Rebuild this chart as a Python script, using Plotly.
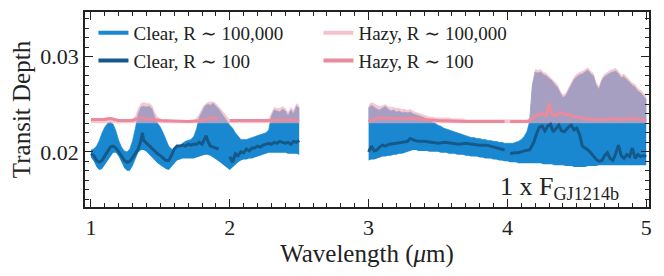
import plotly.graph_objects as go

# ---------------- data ----------------
wl_hi = [1.00, 1.02, 1.04, 1.06, 1.08, 1.10, 1.12, 1.14, 1.16, 1.18, 1.20, 1.22, 1.24, 1.26, 1.28, 1.30,
         1.32, 1.34, 1.36, 1.38, 1.40, 1.42, 1.44, 1.46, 1.48, 1.50, 1.52, 1.54, 1.56, 1.58, 1.60, 1.62,
         1.64, 1.66, 1.68, 1.70, 1.72, 1.74, 1.76, 1.78, 1.80, 1.82, 1.84, 1.86, 1.88, 1.90, 1.92,
         2.00, 2.02, 2.04, 2.06, 2.08, 2.10, 2.12, 2.14, 2.16, 2.18, 2.20, 2.22, 2.24, 2.26, 2.28, 2.30,
         2.32, 2.34, 2.36, 2.38, 2.40, 2.42, 2.44, 2.46, 2.48, 2.50,
         3.00, 3.02, 3.04, 3.06, 3.08, 3.10, 3.12, 3.14, 3.16, 3.18, 3.20, 3.22, 3.24, 3.26, 3.28, 3.30,
         3.32, 3.34, 3.36, 3.38, 3.40, 3.42, 3.44, 3.46, 3.48, 3.50, 3.52, 3.54, 3.56, 3.58, 3.60, 3.62,
         3.64, 3.66, 3.68, 3.70, 3.72, 3.74, 3.76, 3.78, 3.80, 3.82, 3.84, 3.86, 3.88, 3.90, 3.92, 3.94,
         3.96, 3.98, 4.00, 4.02, 4.04, 4.06, 4.08, 4.10, 4.12, 4.14, 4.16, 4.18, 4.20, 4.22, 4.24, 4.26,
         4.28, 4.30, 4.32, 4.34, 4.36, 4.38, 4.40, 4.42, 4.44, 4.46, 4.48, 4.50, 4.52, 4.54, 4.56, 4.58,
         4.60, 4.62, 4.64, 4.66, 4.68, 4.70, 4.72, 4.74, 4.76, 4.78, 4.80, 4.82, 4.84, 4.86, 4.88, 4.90,
         4.92, 4.94, 4.96, 4.98, 5.00]

clear_hi_min = [0.0194, 0.0190, 0.0184, 0.0181, 0.0182, 0.0186, 0.0190, 0.0195, 0.0199, 0.0199, 0.0195, 0.0189, 0.0183, 0.0180, 0.0180, 0.0185,
                0.0193, 0.0199, 0.0202, 0.0202, 0.0200, 0.0197, 0.0193, 0.0190, 0.0188, 0.0186, 0.0184, 0.0182, 0.0181, 0.0184, 0.0188, 0.0191,
                0.0192, 0.0193, 0.0193, 0.0193, 0.0193, 0.0193, 0.0194, 0.0195, 0.0196, 0.0197, 0.0197, 0.0196, 0.0194, 0.0192, 0.0190,
                0.0181, 0.0184, 0.0187, 0.0189, 0.0191, 0.0192, 0.0192, 0.0193, 0.0193, 0.0194, 0.0195, 0.0196, 0.0197, 0.0198, 0.0199, 0.0199,
                0.0199, 0.0199, 0.0199, 0.0199, 0.0199, 0.0198, 0.0198, 0.0198, 0.0198, 0.0197,
                0.0191, 0.0192, 0.0192, 0.0193, 0.0194, 0.0195, 0.0195, 0.0196, 0.0196, 0.0197, 0.0197, 0.0198, 0.0198, 0.0199, 0.0200, 0.0201,
                0.0202, 0.0202, 0.0201, 0.0201, 0.0201, 0.0201, 0.0200, 0.0200, 0.0200, 0.0200, 0.0199, 0.0199, 0.0199, 0.0198, 0.0198, 0.0198,
                0.0197, 0.0197, 0.0197, 0.0196, 0.0196, 0.0195, 0.0195, 0.0195, 0.0194, 0.0194, 0.0193, 0.0193, 0.0193, 0.0192, 0.0192, 0.0191,
                0.0191, 0.0190, 0.0190, 0.0189, 0.0189, 0.0189, 0.0188, 0.0188, 0.0188, 0.0188, 0.0188, 0.0188, 0.0188, 0.0188, 0.0188, 0.0187,
                0.0187, 0.0187, 0.0187, 0.0186, 0.0186, 0.0186, 0.0186, 0.0185, 0.0185, 0.0185, 0.0184, 0.0184, 0.0184, 0.0184, 0.0184, 0.0185,
                0.0185, 0.0185, 0.0185, 0.0186, 0.0186, 0.0186, 0.0186, 0.0186, 0.0186, 0.0186, 0.0186, 0.0186, 0.0186, 0.0186, 0.0186, 0.0186,
                0.0186, 0.0186, 0.0186, 0.0186, 0.0186]

clear_hi_max = [0.0202, 0.0203, 0.0206, 0.0212, 0.0220, 0.0226, 0.0230, 0.0231, 0.0229, 0.0222, 0.0212, 0.0205, 0.0201, 0.0200, 0.0203, 0.0212,
                0.0225, 0.0240, 0.0247, 0.0248, 0.0247, 0.0248, 0.0245, 0.0236, 0.0230, 0.0226, 0.0220, 0.0212, 0.0206, 0.0203, 0.0202, 0.0204,
                0.0207, 0.0209, 0.0211, 0.0212, 0.0213, 0.0216, 0.0224, 0.0236, 0.0243, 0.0248, 0.0250, 0.0249, 0.0251, 0.0248, 0.0245,
                0.0228, 0.0225, 0.0220, 0.0216, 0.0213, 0.0213, 0.0213, 0.0214, 0.0215, 0.0216, 0.0217, 0.0218, 0.0219, 0.0220, 0.0223, 0.0238,
                0.0244, 0.0243, 0.0242, 0.0245, 0.0243, 0.0238, 0.0244, 0.0240, 0.0248, 0.0246,
                0.0246, 0.0249, 0.0247, 0.0245, 0.0244, 0.0246, 0.0248, 0.0245, 0.0243, 0.0244, 0.0242, 0.0243, 0.0241, 0.0242, 0.0241, 0.0242,
                0.0240, 0.0239, 0.0238, 0.0237, 0.0236, 0.0234, 0.0233, 0.0231, 0.0230, 0.0228, 0.0227, 0.0225, 0.0224, 0.0223, 0.0222, 0.0221,
                0.0220, 0.0219, 0.0218, 0.0217, 0.0216, 0.0215, 0.0215, 0.0214, 0.0214, 0.0213, 0.0213, 0.0212, 0.0212, 0.0211, 0.0211, 0.0210,
                0.0210, 0.0209, 0.0209, 0.0209, 0.0209, 0.0210, 0.0211, 0.0213, 0.0216, 0.0221, 0.0232, 0.0270, 0.0284, 0.0283, 0.0284, 0.0281,
                0.0280, 0.0277, 0.0275, 0.0271, 0.0268, 0.0262, 0.0257, 0.0259, 0.0265, 0.0270, 0.0276, 0.0279, 0.0281, 0.0282, 0.0284, 0.0286,
                0.0282, 0.0280, 0.0270, 0.0266, 0.0275, 0.0279, 0.0281, 0.0283, 0.0284, 0.0285, 0.0282, 0.0278, 0.0279, 0.0276, 0.0272, 0.0270,
                0.0268, 0.0264, 0.0262, 0.0258, 0.0255]

hazy_hi_max = [0.0234, 0.0234, 0.0234, 0.0235, 0.0235, 0.0236, 0.0237, 0.0237, 0.0236, 0.0235, 0.0234, 0.0234, 0.0234, 0.0234, 0.0234, 0.0235,
               0.0238, 0.0246, 0.0251, 0.0252, 0.0251, 0.0251, 0.0249, 0.0242, 0.0237, 0.0235, 0.0234, 0.0234, 0.0234, 0.0233, 0.0233, 0.0233,
               0.0233, 0.0233, 0.0233, 0.0233, 0.0233, 0.0233, 0.0236, 0.0240, 0.0246, 0.0250, 0.0252, 0.0253, 0.0253, 0.0251, 0.0248,
               0.0234, 0.0234, 0.0234, 0.0234, 0.0234, 0.0234, 0.0234, 0.0234, 0.0234, 0.0234, 0.0234, 0.0234, 0.0234, 0.0234, 0.0235, 0.0242,
               0.0247, 0.0246, 0.0246, 0.0248, 0.0246, 0.0242, 0.0247, 0.0244, 0.0251, 0.0249,
               0.0249, 0.0252, 0.0251, 0.0249, 0.0248, 0.0249, 0.0250, 0.0248, 0.0247, 0.0247, 0.0246, 0.0246, 0.0245, 0.0245, 0.0244, 0.0245,
               0.0243, 0.0242, 0.0241, 0.0240, 0.0239, 0.0238, 0.0237, 0.0237, 0.0236, 0.0236, 0.0236, 0.0236, 0.0236, 0.0236, 0.0235, 0.0235,
               0.0235, 0.0235, 0.0235, 0.0234, 0.0234, 0.0234, 0.0234, 0.0234, 0.0234, 0.0234, 0.0234, 0.0234, 0.0234, 0.0234, 0.0234, 0.0234,
               0.0234, 0.0234, 0.0234, 0.0234, 0.0234, 0.0234, 0.0234, 0.0234, 0.0234, 0.0234, 0.0236, 0.0273, 0.0287, 0.0286, 0.0287, 0.0284,
               0.0283, 0.0280, 0.0278, 0.0274, 0.0271, 0.0265, 0.0260, 0.0262, 0.0268, 0.0273, 0.0279, 0.0282, 0.0284, 0.0285, 0.0287, 0.0289,
               0.0285, 0.0283, 0.0273, 0.0269, 0.0278, 0.0282, 0.0284, 0.0286, 0.0287, 0.0288, 0.0285, 0.0281, 0.0282, 0.0279, 0.0275, 0.0273,
               0.0271, 0.0267, 0.0265, 0.0262, 0.0259]

hazy_hi_floor = 0.0230

wl_lo = [1.00, 1.02, 1.04, 1.06, 1.08, 1.10, 1.12, 1.14, 1.16, 1.18, 1.20, 1.22, 1.24, 1.26, 1.28, 1.30,
         1.32, 1.34, 1.36, 1.37, 1.38, 1.40, 1.42, 1.44, 1.46, 1.48, 1.50, 1.52, 1.54, 1.56, 1.58, 1.60,
         1.62, 1.64, 1.66, 1.68, 1.70, 1.72, 1.74, 1.76, 1.78, 1.80, 1.82, 1.83, 1.84, 1.86, 1.88, 1.90, 1.92,
         None,
         2.00, 2.02, 2.04, 2.06, 2.08, 2.10, 2.12, 2.14, 2.16, 2.18, 2.20, 2.22, 2.24, 2.26, 2.28, 2.30,
         2.32, 2.34, 2.36, 2.38, 2.40, 2.42, 2.44, 2.46, 2.48, 2.50,
         None,
         3.00, 3.02, 3.04, 3.06, 3.08, 3.10, 3.12, 3.15, 3.20, 3.25, 3.28, 3.30, 3.33, 3.36, 3.40, 3.45,
         3.50, 3.55, 3.60, 3.65, 3.70, 3.75, 3.80, 3.85, 3.90, 3.95, 3.98,
         None,
         4.02, 4.05, 4.08, 4.12, 4.16, 4.19, 4.21, 4.23, 4.25, 4.27, 4.29, 4.31, 4.33, 4.35, 4.37, 4.39,
         4.41, 4.44, 4.46, 4.48, 4.50, 4.52, 4.54, 4.56, 4.58, 4.60, 4.62, 4.64, 4.66, 4.68, 4.70, 4.72,
         4.74, 4.76, 4.78, 4.80, 4.82, 4.84, 4.86, 4.88, 4.90, 4.92, 4.94, 4.96, 4.98, 5.00]

clear_lo = [0.0198, 0.0196, 0.0191, 0.0189, 0.0191, 0.0196, 0.0201, 0.0205, 0.0206, 0.0204, 0.0200, 0.0195, 0.0191, 0.0189, 0.0190, 0.0194,
            0.0199, 0.0203, 0.0212, 0.0220, 0.0212, 0.0209, 0.0207, 0.0203, 0.0200, 0.0198, 0.0196, 0.0193, 0.0191, 0.0191, 0.0196, 0.0203,
            0.0206, 0.0206, 0.0207, 0.0206, 0.0208, 0.0207, 0.0208, 0.0208, 0.0210, 0.0208, 0.0213, 0.0217, 0.0212, 0.0206, 0.0205, 0.0204, 0.0203,
            None,
            0.0195, 0.0189, 0.0198, 0.0196, 0.0200, 0.0199, 0.0203, 0.0201, 0.0204, 0.0204, 0.0206, 0.0205, 0.0207, 0.0208, 0.0209, 0.0208,
            0.0210, 0.0209, 0.0211, 0.0210, 0.0209, 0.0210, 0.0208, 0.0211, 0.0210, 0.0212,
            None,
            0.0200, 0.0206, 0.0201, 0.0202, 0.0205, 0.0207, 0.0206, 0.0208, 0.0209, 0.0210, 0.0211, 0.0214, 0.0212, 0.0211, 0.0211, 0.0210,
            0.0209, 0.0210, 0.0209, 0.0208, 0.0209, 0.0208, 0.0207, 0.0207, 0.0205, 0.0203, 0.0202,
            None,
            0.0198, 0.0199, 0.0199, 0.0201, 0.0202, 0.0210, 0.0219, 0.0226, 0.0227, 0.0222, 0.0227, 0.0229, 0.0221, 0.0224, 0.0228, 0.0222,
            0.0221, 0.0226, 0.0228, 0.0223, 0.0225, 0.0218, 0.0206, 0.0204, 0.0202, 0.0199, 0.0195, 0.0192, 0.0190, 0.0191, 0.0196, 0.0199,
            0.0193, 0.0191, 0.0198, 0.0207, 0.0196, 0.0193, 0.0197, 0.0195, 0.0204, 0.0193, 0.0197, 0.0195, 0.0196, 0.0195]

wl_hz = [1.00, 1.10, 1.14, 1.20, 1.30, 1.36, 1.40, 1.50, 1.70, 1.80, 1.84, 1.88, 1.92,
         None,
         2.00, 2.30, 2.40, 2.50,
         None,
         3.00, 3.05, 3.10, 3.20, 3.30, 3.40, 3.50, 3.70, 3.98,
         None,
         4.02, 4.15, 4.19, 4.22, 4.25, 4.28, 4.30, 4.32, 4.35, 4.38, 4.41, 4.44, 4.47, 4.50, 4.55, 4.60,
         4.70, 4.75, 4.80, 4.90, 5.00]

hazy_lo = [0.0234, 0.0234, 0.0235, 0.0233, 0.0233, 0.0236, 0.0235, 0.0233, 0.0232, 0.0233, 0.0235, 0.0236, 0.0235,
           None,
           0.0233, 0.0233, 0.0234, 0.0233,
           None,
           0.0232, 0.0235, 0.0236, 0.0235, 0.0235, 0.0234, 0.0233, 0.0232, 0.0232,
           None,
           0.0232, 0.0232, 0.0236, 0.0239, 0.0240, 0.0238, 0.0251, 0.0240, 0.0238, 0.0242, 0.0239, 0.0240, 0.0237, 0.0237, 0.0235, 0.0234,
           0.0234, 0.0235, 0.0234, 0.0235, 0.0233]

legend_names = ["Clear, R \u223c 100,000", "Clear, R \u223c 100", "Hazy, R \u223c 100,000", "Hazy, R \u223c 100"]
x_ticks = [1, 2, 3, 4, 5]
y_ticks = [0.02, 0.03]

# ---------------- styling ----------------
BLUE = "#1a88d0"
DARK = "#15598a"
PINK_LIGHT = "#f6c3cd"
PINK = "#ea8a9c"
HAZE_FILL = "rgba(240,172,187,0.66)"
FONT = "Liberation Serif, Times New Roman, DejaVu Serif, serif"
INK = "#222222"


def split_segments(x, *ys, gap=0.1):
    segs = []
    start = 0
    for i in range(1, len(x)):
        if x[i] - x[i - 1] > gap:
            segs.append((start, i))
            start = i
    segs.append((start, len(x)))
    return [[x[a:b]] + [y[a:b] for y in ys] for a, b in segs]


fig = go.Figure()

# clear high-resolution band
for wl, lo, hi in split_segments(wl_hi, clear_hi_min, clear_hi_max):
    fig.add_trace(go.Scatter(x=wl, y=lo, mode="lines", line=dict(width=0, color=BLUE),
                             showlegend=False, hoverinfo="skip"))
    fig.add_trace(go.Scatter(x=wl, y=hi, mode="lines", fill="tonexty", fillcolor=BLUE,
                             line=dict(width=0.6, color=BLUE), showlegend=False, hoverinfo="skip"))

# hazy high-resolution band (translucent pink over the blue)
for wl, hi in split_segments(wl_hi, hazy_hi_max):
    fig.add_trace(go.Scatter(x=wl, y=[hazy_hi_floor] * len(wl), mode="lines", line=dict(width=0),
                             showlegend=False, hoverinfo="skip"))
    fig.add_trace(go.Scatter(x=wl, y=hi, mode="lines", fill="tonexty", fillcolor=HAZE_FILL,
                             line=dict(width=0), showlegend=False, hoverinfo="skip"))

# low-resolution lines
fig.add_trace(go.Scatter(x=wl_lo, y=clear_lo, mode="lines", line=dict(width=3, color=DARK),
                         showlegend=False, connectgaps=False))
fig.add_trace(go.Scatter(x=wl_hz, y=hazy_lo, mode="lines", line=dict(width=3, color=PINK),
                         showlegend=False, connectgaps=False))

# legend entries
for name, col, rank in zip(legend_names, [BLUE, DARK, PINK_LIGHT, PINK], [1, 3, 2, 4]):
    fig.add_trace(go.Scatter(x=[None], y=[None], mode="lines", name=name,
                             line=dict(width=4, color=col), legendrank=rank))

axis_common = dict(
    showline=True, linewidth=1.8, linecolor=INK, mirror="ticks",
    ticks="inside", ticklen=8, tickwidth=1.4, tickcolor=INK,
    showgrid=False, zeroline=False, automargin=False,
    tickfont=dict(family=FONT, size=22, color=INK),
)

fig.update_xaxes(range=[0.957, 5.02], tickvals=x_ticks, ticktext=[str(v) for v in x_ticks],
                 minor=dict(tick0=0, dtick=0.1, ticks="inside", ticklen=4, tickwidth=1.1, tickcolor=INK),
                 title=dict(text="Wavelength (<i>\u03bc</i>m)", font=dict(family=FONT, size=25, color=INK), standoff=3),
                 **axis_common)
fig.update_yaxes(range=[0.0142, 0.0347], tickvals=y_ticks, ticktext=["0.02", "0.03"],
                 minor=dict(tick0=0, dtick=0.001, ticks="inside", ticklen=4, tickwidth=1.1, tickcolor=INK),
                 title=dict(text="Transit Depth", font=dict(family=FONT, size=25, color=INK), standoff=6),
                 **axis_common)

fig.add_annotation(x=4.82, y=0.01625, xref="x", yref="y", xanchor="right", yanchor="middle",
                   text="1 x F<sub>GJ1214b</sub>", showarrow=False,
                   font=dict(family=FONT, size=26, color=INK))

# the page adds an 8 px body margin, so the figure is 16 px smaller than the window
fig.update_layout(
    width=648, height=260,
    margin=dict(l=77, r=7, t=4, b=61),
    paper_bgcolor="white", plot_bgcolor="white",
    font=dict(family=FONT, color=INK),
    legend=dict(orientation="h", x=0.015, y=0.99, xanchor="left", yanchor="top", traceorder="normal",
                entrywidth=180, entrywidthmode="pixels", bgcolor="rgba(0,0,0,0)",
                font=dict(family=FONT, size=19, color=INK), tracegroupgap=0, itemwidth=30),
)

fig.write_html("out.html")
